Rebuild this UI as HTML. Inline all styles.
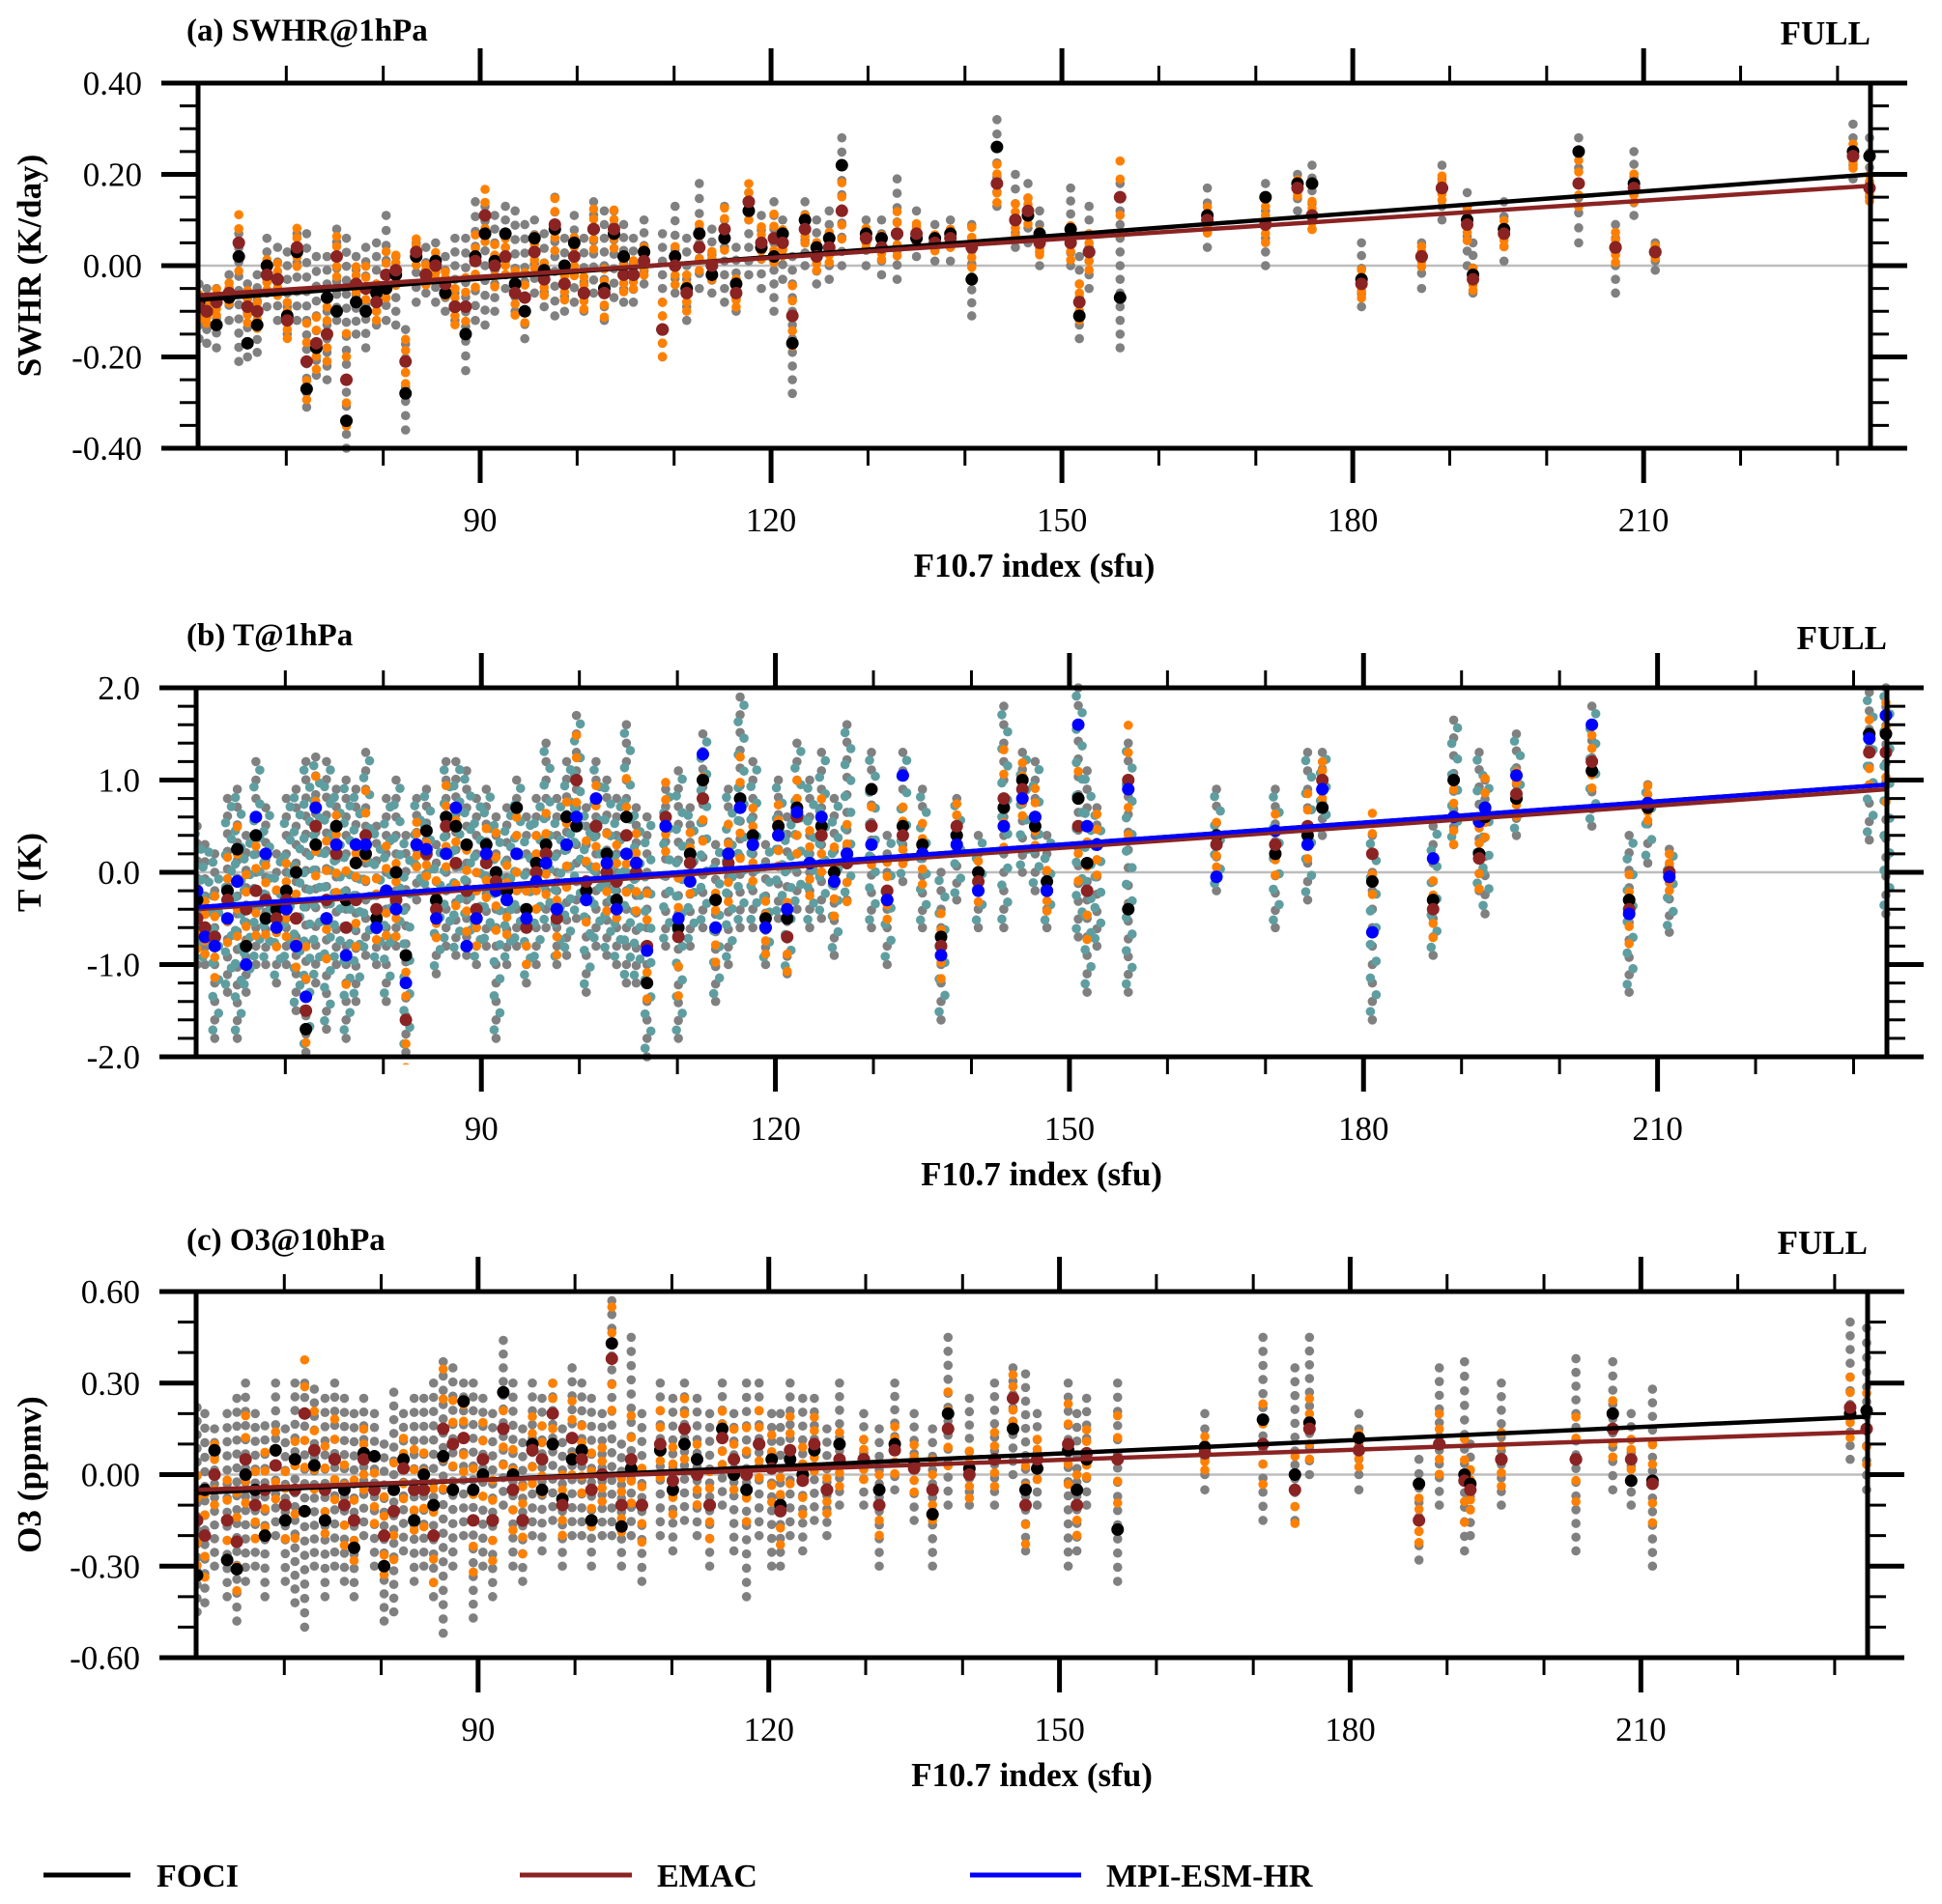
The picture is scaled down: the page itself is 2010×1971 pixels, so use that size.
<!DOCTYPE html>
<html><head><meta charset="utf-8"><style>
html,body{margin:0;padding:0;background:#fff;}
svg{display:block;}
text{font-family:"Liberation Serif","DejaVu Serif",serif;}
</style></head><body>
<svg id="chart" width="2010" height="1971" viewBox="0 0 2010 1971" xmlns="http://www.w3.org/2000/svg" font-family="Liberation Serif, serif">
<g id="layer"></g>
<g>
  <line x1="45" y1="1941" x2="135" y2="1941" stroke="#000" stroke-width="5"/>
  <text x="162" y="1953" font-size="34" font-weight="bold">FOCI</text>
  <line x1="538" y1="1941" x2="654" y2="1941" stroke="#8b2323" stroke-width="5"/>
  <text x="680" y="1953" font-size="34" font-weight="bold">EMAC</text>
  <line x1="1004" y1="1941" x2="1119" y2="1941" stroke="#0000ff" stroke-width="5"/>
  <text x="1145" y="1953" font-size="34" font-weight="bold">MPI-ESM-HR</text>
</g>
</svg>
<script>
const f107 = [61,61.8,62.8,64.1,65.1,66,67,68,69.1,70.1,
71.1,72.1,73.1,74.2,75.2,76.2,77.2,78.2,79.3,80.3,
81.3,82.3,83.4,84.4,85.4,86.4,87.4,88.5,89.5,90.5,
91.5,92.6,93.6,94.6,95.6,96.6,97.7,98.7,99.7,100.7,
101.7,102.8,103.8,104.8,105.8,106.9,108.8,110.1,111.3,112.6,
113.9,115.2,116.4,117.7,119,120.3,121.2,122.2,123.5,124.7,
126,127.3,129.8,131.4,133,135,136.9,138.5,140.7,143.3,
145.2,146.5,147.7,150.9,151.8,152.8,156,165,171,174.3,
175.8,180.9,187.1,189.2,191.8,192.4,195.6,203.3,207.1,209,
211.2,231.6,233.3];

// Panel a: SWHR
const swhrFoci = [-0.08,-0.10,-0.13,-0.07,0.02,-0.17,-0.13,0.00,-0.03,-0.11,
0.03,-0.27,-0.18,-0.07,-0.10,-0.34,-0.08,-0.10,-0.06,-0.05,
-0.02,-0.28,0.02,-0.02,0.01,-0.06,-0.09,-0.15,0.02,0.07,
0.01,0.07,-0.04,-0.10,0.06,-0.01,0.08,0.00,0.05,-0.06,
0.08,-0.05,0.07,0.02,-0.02,0.03,-0.14,0.02,-0.05,0.07,
-0.02,0.06,-0.04,0.12,0.04,0.02,0.07,-0.17,0.10,0.04,
0.06,0.22,0.07,0.06,0.07,0.06,0.06,0.07,-0.03,0.26,
0.10,0.11,0.07,0.08,-0.11,0.03,-0.07,0.11,0.15,0.18,
0.18,-0.03,0.02,0.17,0.10,-0.02,0.08,0.25,0.04,0.18,
0.03,0.25,0.24];
const swhrEmac = [-0.09,-0.10,-0.08,-0.06,0.05,-0.09,-0.10,-0.02,-0.03,-0.12,
0.04,-0.21,-0.17,-0.15,0.02,-0.25,-0.04,-0.05,-0.08,-0.02,
-0.01,-0.21,0.03,-0.02,0.00,-0.04,-0.09,-0.09,0.01,0.11,
0.00,0.02,-0.06,-0.07,0.03,-0.03,0.09,-0.04,0.02,-0.06,
0.08,-0.06,0.08,-0.02,-0.02,0.01,-0.14,0.00,-0.06,0.04,
0.00,0.08,-0.06,0.14,0.05,0.06,0.05,-0.11,0.08,0.02,
0.04,0.12,0.06,0.04,0.07,0.07,0.05,0.06,0.04,0.18,
0.10,0.12,0.05,0.05,-0.08,0.03,0.15,0.10,0.09,0.17,
0.11,-0.04,0.02,0.17,0.09,-0.03,0.07,0.18,0.04,0.17,
0.03,0.24,0.17];
const swhrLo = [-0.16,-0.17,-0.18,-0.12,-0.21,-0.20,-0.19,-0.09,-0.12,-0.15,
-0.12,-0.31,-0.24,-0.25,-0.12,-0.40,-0.15,-0.18,-0.13,-0.12,
-0.13,-0.36,-0.08,-0.06,-0.08,-0.10,-0.12,-0.23,-0.12,-0.13,
-0.10,-0.05,-0.10,-0.16,-0.06,-0.09,-0.11,-0.10,-0.08,-0.10,
-0.06,-0.12,-0.07,-0.08,-0.08,-0.04,-0.20,-0.06,-0.12,-0.05,
-0.06,-0.08,-0.10,-0.02,-0.05,-0.10,-0.03,-0.28,0.00,-0.04,
-0.03,0.00,0.00,-0.02,-0.03,0.02,0.01,0.01,-0.11,0.13,
0.04,0.05,0.00,0.00,-0.16,-0.05,-0.18,0.04,0.00,0.12,
0.08,-0.09,-0.05,0.10,0.00,-0.06,0.01,0.05,-0.06,0.11,
-0.01,0.19,0.15];
const swhrHi = [-0.04,-0.05,-0.05,-0.02,0.07,-0.04,-0.02,0.06,0.04,0.03,
0.07,0.07,0.02,0.02,0.08,0.06,0.02,0.04,0.05,0.11,
0.02,-0.14,0.05,0.04,0.05,0.02,0.06,0.06,0.14,0.13,
0.11,0.13,0.12,0.09,0.10,0.07,0.15,0.06,0.11,0.06,
0.14,0.12,0.12,0.09,0.06,0.10,0.07,0.13,0.06,0.18,
0.08,0.13,0.04,0.16,0.11,0.14,0.10,0.02,0.14,0.10,
0.12,0.28,0.10,0.10,0.19,0.12,0.09,0.10,0.09,0.32,
0.20,0.18,0.12,0.17,0.02,0.13,0.18,0.17,0.18,0.20,
0.22,0.05,0.05,0.22,0.16,0.05,0.14,0.28,0.09,0.25,
0.05,0.31,0.28];
const swhrTrendFoci = [-0.075,0.200];
const swhrTrendEmac = [-0.065,0.175];

// Panel b: T
const tFoci = [-0.3,-0.6,-0.7,-0.2,0.25,-0.8,0.4,-0.5,-0.4,-0.2,
0.0,-1.7,0.3,-0.5,0.5,-0.3,0.1,0.2,-0.5,-0.2,
0.0,-0.9,0.3,0.45,-0.3,0.6,0.5,0.3,-0.5,0.3,
0.0,-0.2,0.7,-0.4,0.1,0.3,-0.4,0.6,0.5,-0.2,
0.5,0.2,-0.3,0.6,0.1,-1.2,0.5,-0.6,0.2,1.0,
-0.3,0.2,0.8,0.4,-0.5,0.5,-0.5,0.7,0.1,0.5,
0.0,0.2,0.9,-0.3,0.5,0.3,-0.7,0.4,0.0,0.7,
1.0,0.5,-0.1,0.8,0.1,0.3,-0.4,0.4,0.2,0.4,
0.7,-0.1,-0.3,1.0,0.2,0.6,0.8,1.1,-0.3,0.7,
0.0,1.5,1.5];
const tEmac = [-0.5,-0.6,-0.7,-0.3,-0.1,-0.4,-0.2,-0.3,-0.5,-0.3,
-0.5,-1.5,0.5,-0.3,0.2,-0.6,-0.3,0.4,-0.4,-0.2,
-0.3,-1.6,0.3,0.2,-0.4,0.5,0.1,-0.2,-0.4,0.1,
-0.1,-0.3,0.2,-0.6,0.0,0.2,-0.5,0.3,1.0,-0.1,
0.5,0.0,-0.1,0.4,0.0,-0.8,0.6,-0.7,0.1,0.8,
-0.6,0.1,0.7,0.3,-0.6,0.4,-0.7,0.6,0.1,0.4,
-0.1,0.1,0.5,-0.2,0.4,0.2,-0.8,0.5,-0.1,0.8,
0.9,0.6,-0.2,0.5,-0.2,0.3,1.0,0.3,0.3,0.5,
1.0,0.2,-0.4,0.6,0.15,0.7,0.85,1.2,-0.4,0.75,
0.0,1.3,1.3];
const tMpi = [-0.2,-0.7,-0.8,-0.5,-0.1,-1.0,0.6,0.2,-0.6,-0.4,
-0.8,-1.35,0.7,-0.5,0.3,-0.9,0.3,0.3,-0.6,-0.2,
-0.4,-1.2,0.3,0.25,-0.5,0.2,0.7,-0.8,-0.5,0.2,
-0.2,-0.3,0.2,-0.5,-0.1,0.1,-0.4,0.3,0.6,-0.3,
0.8,0.1,-0.4,0.2,0.1,-0.85,0.5,-0.5,-0.1,1.28,
-0.6,0.2,0.7,0.3,-0.6,0.4,-0.4,0.65,0.1,0.6,
-0.1,0.2,0.3,-0.3,1.05,0.2,-0.9,0.3,-0.2,0.5,
0.8,0.6,-0.2,1.6,0.5,0.3,0.9,-0.05,0.45,0.3,
0.9,-0.65,0.15,0.6,0.55,0.7,1.05,1.6,-0.45,0.75,
-0.05,1.45,1.7];
const tLo = [-1.0,-1.0,-1.8,-1.3,-1.8,-1.3,-1.0,-1.0,-1.2,-1.0,
-1.5,-1.95,-1.2,-1.7,-1.0,-1.8,-1.4,-0.9,-1.0,-1.4,
-0.8,-1.95,-0.3,-0.2,-1.1,-0.8,-0.9,-0.9,-1.0,-0.8,
-1.8,-1.0,-0.8,-1.2,-1.0,-0.6,-1.0,-0.9,-0.5,-1.3,
-0.8,-0.9,-1.0,-1.2,-1.2,-2.0,-0.8,-1.8,-0.8,-0.6,
-1.4,-1.0,-0.6,-0.6,-1.0,-0.5,-1.1,-0.4,-0.6,-0.5,
-0.9,-0.3,-0.6,-1.0,-0.1,-0.6,-1.6,-0.3,-0.6,-0.6,
0.0,-0.2,-0.6,-0.7,-1.3,-0.8,-1.3,-0.2,-0.6,-0.3,
0.4,-1.6,-0.9,0.3,-0.2,-0.45,0.4,0.5,-1.3,0.1,
-0.65,0.35,-0.45];
const tHi = [0.5,0.3,0.2,0.8,0.9,0.4,1.2,0.7,0.2,0.8,
0.9,1.2,1.25,1.2,0.9,1.0,0.9,1.3,0.5,0.8,
1.0,0.4,0.8,0.9,0.3,1.2,1.2,1.1,0.8,0.9,
0.6,0.7,1.0,0.6,0.8,1.4,0.8,1.2,1.7,0.7,
1.2,1.0,0.8,1.6,0.7,0.6,0.9,1.1,0.7,1.5,
0.3,0.9,1.9,1.2,0.3,1.0,0.6,1.4,1.0,1.3,
0.8,1.6,1.3,0.4,1.3,0.9,0.0,0.8,0.4,1.8,
1.3,1.2,0.4,2.0,1.1,0.7,1.4,0.9,0.9,1.3,
1.3,0.4,0.5,1.65,1.3,1.0,1.5,1.8,0.4,0.95,
0.25,1.95,2.0];
const tTrendFoci = [-0.38,0.95];
const tTrendEmac = [-0.40,0.90];
const tTrendMpi = [-0.38,0.95];

// Panel c: O3
const o3Foci = [-0.33,-0.05,0.08,-0.28,-0.31,0.0,-0.05,-0.2,0.08,-0.15,
0.05,-0.12,0.03,-0.15,0.05,-0.05,-0.24,0.07,0.06,-0.3,
-0.05,0.05,-0.15,0.0,-0.1,0.06,-0.05,0.24,-0.05,0.0,
-0.15,0.27,0.0,-0.15,0.1,-0.05,0.1,-0.08,0.05,0.08,
-0.15,0.0,0.43,-0.17,0.02,-0.1,0.08,-0.05,0.1,0.05,
-0.1,0.15,0.0,-0.05,0.1,0.05,-0.1,0.05,0.0,0.08,
-0.05,0.1,0.05,-0.05,0.1,0.03,-0.13,0.2,0.02,0.05,
0.15,-0.05,0.02,0.08,-0.05,0.05,-0.18,0.09,0.18,0.0,
0.17,0.12,-0.03,0.1,0.0,-0.03,0.05,0.05,0.2,-0.02,
-0.02,0.2,0.21];
const o3Emac = [-0.15,-0.2,0.0,-0.15,-0.22,0.05,-0.1,-0.05,0.03,-0.1,
-0.05,0.2,0.08,-0.05,0.05,-0.1,-0.15,0.05,-0.05,-0.2,
-0.12,0.02,-0.05,-0.05,-0.2,0.15,0.1,0.12,-0.15,0.05,
-0.15,0.15,-0.05,-0.15,0.08,0.05,0.2,-0.1,0.12,0.05,
-0.05,0.0,0.38,-0.1,0.05,-0.1,0.1,-0.02,0.15,0.0,
-0.1,0.12,0.05,0.0,0.1,0.02,-0.12,0.08,-0.02,0.1,
-0.05,0.05,0.05,-0.1,0.08,0.02,-0.05,0.15,0.0,0.05,
0.25,-0.1,0.05,0.1,-0.1,0.07,0.05,0.07,0.1,-0.05,
0.15,0.08,-0.15,0.1,-0.02,-0.05,0.05,0.05,0.15,0.05,
-0.03,0.22,0.15];
const o3Lo = [-0.45,-0.42,-0.3,-0.4,-0.48,-0.35,-0.3,-0.4,-0.2,-0.35,
-0.42,-0.5,-0.3,-0.4,-0.3,-0.35,-0.4,-0.2,-0.3,-0.48,
-0.45,-0.25,-0.35,-0.3,-0.4,-0.52,-0.3,-0.2,-0.47,-0.3,
-0.4,-0.1,-0.3,-0.35,-0.2,-0.25,-0.15,-0.3,-0.2,-0.2,
-0.3,-0.2,-0.2,-0.3,-0.2,-0.35,-0.2,-0.25,-0.15,-0.2,
-0.3,-0.1,-0.25,-0.4,-0.2,-0.3,-0.3,-0.2,-0.25,-0.15,
-0.2,-0.1,-0.1,-0.3,-0.05,-0.15,-0.3,-0.1,-0.1,-0.1,
0.0,-0.25,-0.1,-0.3,-0.25,-0.1,-0.35,-0.05,-0.15,-0.15,
0.0,-0.05,-0.28,-0.1,-0.25,-0.2,-0.1,-0.25,-0.05,-0.1,
-0.3,0.05,-0.05];
const o3Hi = [0.22,0.2,0.15,0.2,0.25,0.3,0.2,0.16,0.3,0.15,
0.3,0.3,0.28,0.25,0.3,0.25,0.2,0.25,0.2,0.1,
0.27,0.2,0.25,0.25,0.3,0.37,0.35,0.3,0.3,0.25,
0.2,0.44,0.3,0.15,0.3,0.25,0.3,0.15,0.35,0.3,
0.25,0.2,0.57,0.1,0.45,0.2,0.3,0.25,0.3,0.25,
0.2,0.3,0.2,0.3,0.3,0.2,0.2,0.3,0.25,0.25,
0.15,0.3,0.2,0.15,0.3,0.2,0.15,0.45,0.25,0.3,
0.35,0.33,0.2,0.3,0.2,0.25,0.3,0.2,0.45,0.35,
0.45,0.2,0.05,0.35,0.37,0.1,0.3,0.38,0.37,0.2,
0.28,0.5,0.48];
const o3TrendFoci = [-0.06,0.19];
const o3TrendEmac = [-0.05,0.14];

const xMin = 60.9, xMax = 233.4;
const NS = 'http://www.w3.org/2000/svg';
const layer = document.getElementById('layer');
function mk(tag, attrs, parent){
  const e = document.createElementNS(NS, tag);
  for (const k in attrs) e.setAttribute(k, attrs[k]);
  (parent||layer).appendChild(e);
  return e;
}

const panels = [
 {key:'a', L:205, R:1936, T:86, B:464, yMin:-0.4, yMax:0.4, major:0.2, minor:0.05, dec:2,
  title:'(a) SWHR@1hPa', ytitle:'SWHR (K/day)', titleY:42, tickLabY:550, xtitleY:597,
  F:swhrFoci, E:swhrEmac, M:null, lo:swhrLo, hi:swhrHi, tF:swhrTrendFoci, tE:swhrTrendEmac, tM:null},
 {key:'b', L:203, R:1953, T:712, B:1094, yMin:-2, yMax:2, major:1, minor:0.2, dec:1,
  title:'(b) T@1hPa', ytitle:'T (K)', titleY:668, tickLabY:1180, xtitleY:1227,
  F:tFoci, E:tEmac, M:tMpi, lo:tLo, hi:tHi, tF:tTrendFoci, tE:tTrendEmac, tM:tTrendMpi},
 {key:'c', L:203, R:1933, T:1337, B:1716, yMin:-0.6, yMax:0.6, major:0.3, minor:0.1, dec:2,
  title:'(c) O3@10hPa', ytitle:'O3 (ppmv)', titleY:1294, tickLabY:1802, xtitleY:1849,
  F:o3Foci, E:o3Emac, M:null, lo:o3Lo, hi:o3Hi, tF:o3TrendFoci, tE:o3TrendEmac, tM:null}
];

panels.forEach(p => {
  const g = mk('g', {});
  
  
  const xs = v => p.L + (v - xMin) / (xMax - xMin) * (p.R - p.L);
  const ys = v => p.B - (v - p.yMin) / (p.yMax - p.yMin) * (p.B - p.T);
  const span = p.yMax - p.yMin;
  const clip = 'clip-' + p.key;
  const defs = mk('defs', {}, g);
  const cp = mk('clipPath', {id: clip}, defs);
  mk('rect', {x:p.L, y:p.T-8, width:p.R-p.L+8, height:p.B-p.T+16}, cp);
  const plot = mk('g', {'clip-path':'url(#'+clip+')'}, g);
  
  

  const z = mk('line', {x1:p.L, x2:p.R, y1:ys(0), y2:ys(0), stroke:'#bdbdbd', 'stroke-width':2.5}, plot);
  
  

  const dots = mk('g', {}, plot);
  
  
  f107.forEach((xv, i) => {
    const lo = p.lo[i], hi = p.hi[i];
    const n = Math.max(3, Math.round((hi - lo) / span * (p.M ? 20 : 26)));
    for (let k = 0; k <= n; k++) {
      const v = lo + (hi - lo) * k / n;
      const c = mk('circle', {cx:xs(xv), cy:ys(v), r:4.8, fill:'#808080'}, dots);
      
      
    }
  });
  if (p.M) {
    f107.forEach((xv, i) => {
      const lo = p.lo[i], hi = p.hi[i];
      const n = Math.max(3, Math.round((hi - lo) / span * 20));
      for (let k = 0; k <= n; k++) {
        const v = lo + (hi - lo) * (k + 0.5) / (n + 1);
        const c = mk('circle', {cx:xs(xv) + ((k % 2) ? 4 : -2), cy:ys(v), r:4.8, fill:'#5f9ea0'}, dots);
        
        
      }
    });
  }
  f107.forEach((xv, i) => {
    const d = (p.hi[i] - p.lo[i]) * 0.22;
    for (let k = -2; k <= 2; k++) {
      const v = p.E[i] + d * k / 2;
      const c = mk('circle', {cx:xs(xv), cy:ys(v), r:4.8, fill:'#ff8000'}, dots);
      
      
    }
  });
  f107.forEach((xv, i) => {
    const c1 = mk('circle', {cx:xs(xv), cy:ys(p.F[i]), r:6.5, fill:'#000'}, dots);
    
    
    const c2 = mk('circle', {cx:xs(xv), cy:ys(p.E[i]), r:6.5, fill:'#8b2323'}, dots);
    
    
    if (p.M) {
      const c3 = mk('circle', {cx:xs(xv), cy:ys(p.M[i]), r:6.5, fill:'#0000ff'}, dots);
      
      
    }
  });
  const tl = (arr, col, nm) => {
    const l = mk('line', {x1:xs(xMin), y1:ys(arr[0]), x2:xs(xMax), y2:ys(arr[1]), stroke:col, 'stroke-width':4.5}, plot);
    
    
  };
  tl(p.tF, '#000', 'foci-trend-line');
  tl(p.tE, '#8b2323', 'emac-trend-line');
  if (p.tM) tl(p.tM, '#0000ff', 'mpi-trend-line');

  const ax = mk('g', {stroke:'#000'}, g);
  
  
  mk('rect', {x:p.L, y:p.T, width:p.R-p.L, height:p.B-p.T, fill:'none', 'stroke-width':5}, ax);
  const nMin = Math.round(span / p.minor);
  for (let k = 0; k <= nMin; k++) {
    const v = p.yMin + k * p.minor;
    const isMaj = Math.abs(v / p.major - Math.round(v / p.major)) < 1e-6;
    const len = isMaj ? 38 : 19;
    const y = ys(v);
    mk('line', {x1:p.L-len, x2:p.L, y1:y, y2:y, 'stroke-width':isMaj?5:3}, ax);
    mk('line', {x1:p.R, x2:p.R+len, y1:y, y2:y, 'stroke-width':isMaj?5:3}, ax);
    if (isMaj) {
      const t = mk('text', {x:p.L-58, y:y+12, 'font-size':35, 'text-anchor':'end', stroke:'none', fill:'#000'}, g);
      t.textContent = v.toFixed(p.dec);
      
      
    }
  }
  for (let v = 70; v <= 230; v += 10) {
    const isMaj = v % 30 === 0;
    const len = isMaj ? 36 : 18;
    const x = xs(v);
    mk('line', {x1:x, x2:x, y1:p.T-len, y2:p.T, 'stroke-width':isMaj?5:3}, ax);
    mk('line', {x1:x, x2:x, y1:p.B, y2:p.B+len, 'stroke-width':isMaj?5:3}, ax);
    if (isMaj) {
      const t = mk('text', {x:x, y:p.tickLabY, 'font-size':35, 'text-anchor':'middle', stroke:'none', fill:'#000'}, g);
      t.textContent = String(v);
      
      
    }
  }
  const xt = mk('text', {x:(p.L+p.R)/2, y:p.xtitleY, 'font-size':35, 'font-weight':'bold', 'text-anchor':'middle'}, g);
  xt.textContent = 'F10.7 index (sfu)';
  
  
  const cy = (p.T + p.B) / 2;
  const yt = mk('text', {x:0, y:0, 'font-size':35, 'font-weight':'bold', 'text-anchor':'middle', transform:'translate(42,'+cy+') rotate(-90)'}, g);
  yt.textContent = p.ytitle;
  
  
  const tt = mk('text', {x:193, y:p.titleY, 'font-size':33, 'font-weight':'bold'}, g);
  tt.textContent = p.title;
  
  
  const fl = mk('text', {x:p.R, y:p.titleY+4, 'font-size':35, 'font-weight':'bold', 'text-anchor':'end'}, g);
  fl.textContent = 'FULL';
  
  
});
</script>
</body></html>
